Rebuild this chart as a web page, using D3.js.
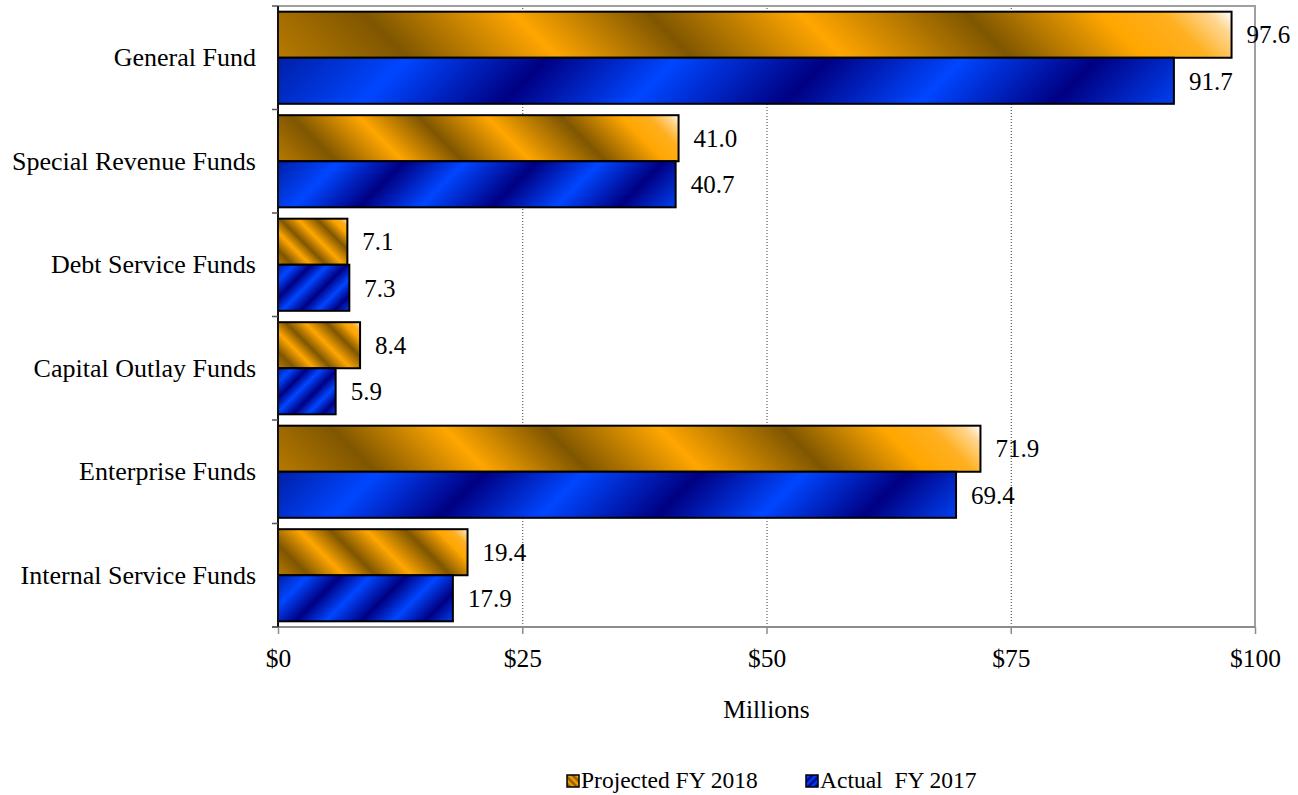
<!DOCTYPE html>
<html>
<head>
<meta charset="utf-8">
<script src="https://cdn.jsdelivr.net/npm/d3@7"></script>
<style>
  body { margin: 0; background: #fff; }
  svg text { font-family: "Liberation Serif", "Times New Roman", serif; fill: #000; }
</style>
</head>
<body>
<svg id="chart" width="1298" height="795"></svg>
<script>
// Fund revenues, in millions of dollars
const categories = [
  "General Fund",
  "Special Revenue Funds",
  "Debt Service Funds",
  "Capital Outlay Funds",
  "Enterprise Funds",
  "Internal Service Funds"
];
const projectedFY2018 = [97.6, 41.0, 7.1, 8.4, 71.9, 19.4];
const actualFY2017 = [91.7, 40.7, 7.3, 5.9, 69.4, 17.9];
const seriesNames = ["Projected FY 2018", "Actual  FY 2017"];
const xTickValues = [0, 25, 50, 75, 100];
const xAxisTitle = "Millions";

// Colour stops of the two banded fills
const goldStops = [
  [0.00, "#b87a00"], [0.13, "#7f5600"], [0.28, "#ffa600"], [0.415, "#7f5600"],
  [0.567, "#ffa600"], [0.733, "#7f5600"], [0.866, "#ffa600"], [0.93, "#ffb020"],
  [0.975, "#ffd690"], [1.00, "#ffffff"]
];
const blueStops = [
  [0.00, "#001fa8"], [0.139, "#0046ff"], [0.286, "#000082"], [0.424, "#0046ff"],
  [0.585, "#000082"], [0.728, "#0046ff"], [0.871, "#000082"], [1.00, "#0040f0"]
];

const series = [
  { name: seriesNames[0], values: projectedFY2018, stops: goldStops, dir: "down" },
  { name: seriesNames[1], values: actualFY2017, stops: blueStops, dir: "up" }
];

const svg = d3.select("#chart");
const defs = svg.append("defs");
const plot = { left: 278, right: 1255, top: 6, bottom: 627 };

// A 45-degree banded gradient stretched over one rectangle (local coordinates)
let gradCount = 0;
function bandFill(s, x0, y0, w, h) {
  const id = "band" + (gradCount++);
  const half = (w + h) / 2;
  const c = s.dir === "down"
    ? [x0, y0 + h, x0 + half, y0 + h - half]   // bands slanting "\" , lightest at top-right
    : [x0, y0, x0 + half, y0 + half];          // bands slanting "/"
  const g = defs.append("linearGradient")
    .attr("id", id)
    .attr("gradientUnits", "userSpaceOnUse")
    .attr("x1", c[0]).attr("y1", c[1]).attr("x2", c[2]).attr("y2", c[3]);
  g.selectAll("stop").data(s.stops).join("stop")
    .attr("offset", d => d[0])
    .attr("stop-color", d => d[1]);
  return `url(#${id})`;
}

// Scales
const x = d3.scaleLinear().domain([0, 100]).range([plot.left, plot.right]);
const y = d3.scaleBand().domain(categories).range([plot.top, plot.bottom])
  .paddingInner(0.11).paddingOuter(0.055);
const ySub = d3.scaleBand().domain(seriesNames).range([0, y.bandwidth()]);

// Plot frame (top and right edges)
svg.append("path")
  .attr("d", `M${plot.left},${plot.top}H${plot.right}V${plot.bottom}`)
  .attr("fill", "none").attr("stroke", "#a0a0a0").attr("stroke-width", 2);

// Dotted vertical gridlines
const grid = svg.append("g")
  .attr("transform", `translate(0,${plot.bottom})`)
  .call(d3.axisBottom(x).tickValues(xTickValues.filter(v => v > 0 && v < 100))
    .tickSize(-(plot.bottom - plot.top)).tickFormat(""));
grid.select(".domain").remove();
grid.selectAll(".tick line")
  .attr("stroke", "#3a3a3a").attr("stroke-width", 1).attr("stroke-dasharray", "1,2");

// Bars
const rows = categories.map((c, i) => ({
  category: c,
  items: series.map(s => ({ s, series: s.name, value: s.values[i] }))
}));

const groups = svg.append("g").selectAll("g").data(rows).join("g")
  .attr("transform", d => `translate(0,${y(d.category)})`);

groups.selectAll("rect").data(d => d.items).join("rect")
  .attr("x", x(0))
  .attr("y", d => ySub(d.series))
  .attr("width", d => x(d.value) - x(0))
  .attr("height", ySub.bandwidth())
  .attr("fill", d => bandFill(d.s, x(0), ySub(d.series), x(d.value) - x(0), ySub.bandwidth()))
  .attr("stroke", "#000")
  .attr("stroke-width", 2);

groups.selectAll("text").data(d => d.items).join("text")
  .attr("x", d => x(d.value) + 15)
  .attr("y", d => ySub(d.series) + ySub.bandwidth() / 2)
  .attr("dy", "0.35em")
  .attr("font-size", 25)
  .text(d => d.value.toFixed(1));

// X axis
const xAxis = svg.append("g")
  .attr("transform", `translate(0,${plot.bottom})`)
  .call(d3.axisBottom(x).tickValues(xTickValues).tickSize(7).tickPadding(15)
    .tickFormat(d => "$" + d));
xAxis.select(".domain").attr("stroke", "#8c8c8c").attr("stroke-width", 2)
  .attr("d", `M${plot.left - 6},0H${plot.right}`);
xAxis.selectAll(".tick line").attr("stroke", "#8c8c8c").attr("stroke-width", 1.5);
xAxis.selectAll(".tick text").attr("font-size", 25.5)
  .style("font-family", '"Liberation Serif", "Times New Roman", serif');

// Y axis
const yAxis = svg.append("g")
  .attr("transform", `translate(${plot.left},0)`)
  .call(d3.axisLeft(y).tickSize(0).tickPadding(22));
yAxis.select(".domain").attr("stroke", "#111").attr("stroke-width", 2)
  .attr("d", `M0,${plot.top}V${plot.bottom}`);
yAxis.selectAll(".tick text").attr("font-size", 26)
  .style("font-family", '"Liberation Serif", "Times New Roman", serif');

// Category separator ticks
const boundaries = d3.range(categories.length + 1).map(i => plot.top + i * y.step());
svg.append("g").selectAll("line").data(boundaries).join("line")
  .attr("x1", plot.left - 6).attr("x2", plot.left)
  .attr("y1", d => d).attr("y2", d => d)
  .attr("stroke", "#555").attr("stroke-width", 1.5);

// Axis title
svg.append("text")
  .attr("x", (plot.left + plot.right) / 2)
  .attr("y", 718)
  .attr("text-anchor", "middle")
  .attr("font-size", 25.5)
  .text(xAxisTitle);

// Legend
const legendItems = [
  { s: series[0], x: 567 },
  { s: series[1], x: 806 }
];
const legend = svg.append("g").selectAll("g").data(legendItems).join("g")
  .attr("transform", d => `translate(${d.x},775)`);
legend.append("rect")
  .attr("width", 12).attr("height", 12)
  .attr("fill", d => bandFill(d.s, 0, 0, 12, 12))
  .attr("stroke", "#000").attr("stroke-width", 1.5);
legend.append("text")
  .attr("x", 14).attr("y", 13)
  .attr("font-size", 23.5)
  .attr("xml:space", "preserve")
  .style("white-space", "pre")
  .text(d => d.s.name);
</script>
</body>
</html>
